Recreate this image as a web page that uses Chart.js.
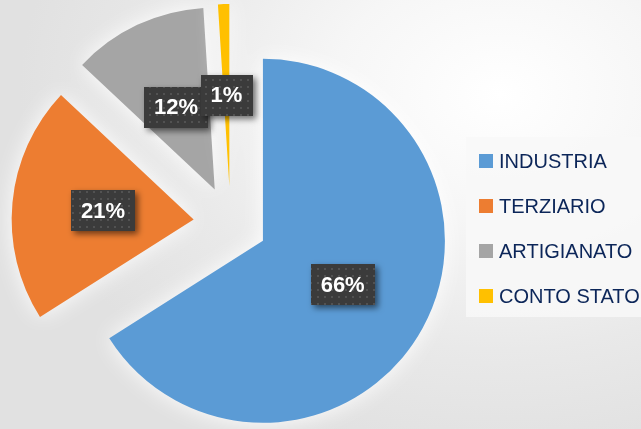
<!DOCTYPE html>
<html>
<head>
<meta charset="utf-8">
<script src="https://cdn.jsdelivr.net/npm/chart.js@4.4.1/dist/chart.umd.min.js"></script>
<style>
  html, body { margin: 0; padding: 0; }
  #wrap {
    position: relative;
    width: 641px;
    height: 429px;
    background: radial-gradient(ellipse 75% 85% at 78% 22%, #ffffff 0%, #f6f6f6 35%, #e9e9e9 70%, #e1e1e1 100%);
  }
</style>
</head>
<body>
<div id="wrap"><canvas id="pieChart"></canvas></div>
<script>
const categories = ['INDUSTRIA', 'TERZIARIO', 'ARTIGIANATO', 'CONTO STATO'];
const shares = [66, 21, 12, 1];
const sliceColors = ['#5b9bd5', '#ed7d31', '#a5a5a5', '#ffc000'];
const EXPLODE = 37; // how far every slice is pulled out of the centre

document.addEventListener('DOMContentLoaded', () => {
    const ctx = document.getElementById('pieChart');
    if (!ctx) return;

    // dotted texture for the label boxes
    const tile = document.createElement('canvas');
    tile.width = 7;
    tile.height = 7;
    const t = tile.getContext('2d');
    t.fillStyle = '#3b3b3b';
    t.fillRect(0, 0, 7, 7);
    t.fillStyle = '#525252';
    t.fillRect(2, 2, 2, 2);

    // pull slices outward by a plain translation (Chart.js offset also grows the radius)
    // and give them a soft white halo
    const explode = {
        id: 'explode',
        beforeDatasetsDraw(chart) {
            chart.getDatasetMeta(0).data.forEach(arc => {
                if (arc._exploded) return;
                const orig = arc.draw;
                arc.draw = function(c) {
                    const mid = (this.startAngle + this.endAngle) / 2;
                    c.save();
                    c.translate(Math.cos(mid) * EXPLODE, Math.sin(mid) * EXPLODE);
                    orig.call(this, c);
                    c.restore();
                };
                arc._exploded = true;
            });
            const c = chart.ctx;
            c.save();
            c.shadowColor = 'rgba(255,255,255,0.95)';
            c.shadowBlur = 22;
        },
        afterDatasetsDraw(chart) {
            chart.ctx.restore();
        }
    };

    // percentage boxes inside the slices
    const boxLabels = {
        id: 'boxLabels',
        afterDatasetsDraw(chart) {
            const c = chart.ctx;
            const meta = chart.getDatasetMeta(0);
            const values = chart.data.datasets[0].data;
            const total = values.reduce((a, b) => a + b, 0);
            const pattern = c.createPattern(tile, 'repeat');
            c.save();
            c.font = 'bold 22px "Liberation Sans", Arial, sans-serif';
            c.textAlign = 'center';
            c.textBaseline = 'middle';
            meta.data.forEach((arc, i) => {
                const p = arc.getProps(['x', 'y', 'startAngle', 'endAngle', 'outerRadius'], true);
                const mid = (p.startAngle + p.endAngle) / 2;
                const dist = EXPLODE + p.outerRadius * 0.5;
                const cx = p.x + Math.cos(mid) * dist;
                const cy = p.y + Math.sin(mid) * dist;
                const text = Math.round(values[i] / total * 100) + '%';
                const w = c.measureText(text).width + 20;
                const h = 41;
                c.save();
                c.shadowColor = 'rgba(0,0,0,0.55)';
                c.shadowBlur = 6;
                c.shadowOffsetX = 3;
                c.shadowOffsetY = 3;
                c.fillStyle = pattern;
                c.fillRect(Math.round(cx - w / 2), Math.round(cy - h / 2), Math.round(w), h);
                c.restore();
                c.fillStyle = '#ffffff';
                c.fillText(text, cx, cy + 1);
            });
            c.restore();
        }
    };

    // legend panel on the right
    const sideLegend = {
        id: 'sideLegend',
        afterDraw(chart) {
            const c = chart.ctx;
            const ds = chart.data.datasets[0];
            c.save();
            c.fillStyle = 'rgba(248,248,248,0.85)';
            c.fillRect(466, 137, 175, 180);
            c.font = '20px "Liberation Sans", Arial, sans-serif';
            c.textBaseline = 'alphabetic';
            chart.data.labels.forEach((label, i) => {
                const y = 160.5 + i * 45.2;
                c.fillStyle = ds.backgroundColor[i];
                c.fillRect(479, Math.round(y - 7), 14, 14);
                c.fillStyle = '#0c2659';
                c.fillText(label, 499, y + 7.3);
            });
            c.restore();
        }
    };

    new Chart(ctx, {
        type: 'pie',
        data: {
            labels: categories,
            datasets: [{
                data: shares,
                backgroundColor: sliceColors,
                borderWidth: 0
            }]
        },
        options: {
            responsive: true,
            maintainAspectRatio: false,
            animation: false,
            radius: 182,
            layout: {
                padding: { left: 0, right: 180, top: 17, bottom: 0 }
            },
            plugins: {
                legend: { display: false },
                tooltip: { enabled: false }
            }
        },
        plugins: [explode, boxLabels, sideLegend]
    });
});
</script>
</body>
</html>
